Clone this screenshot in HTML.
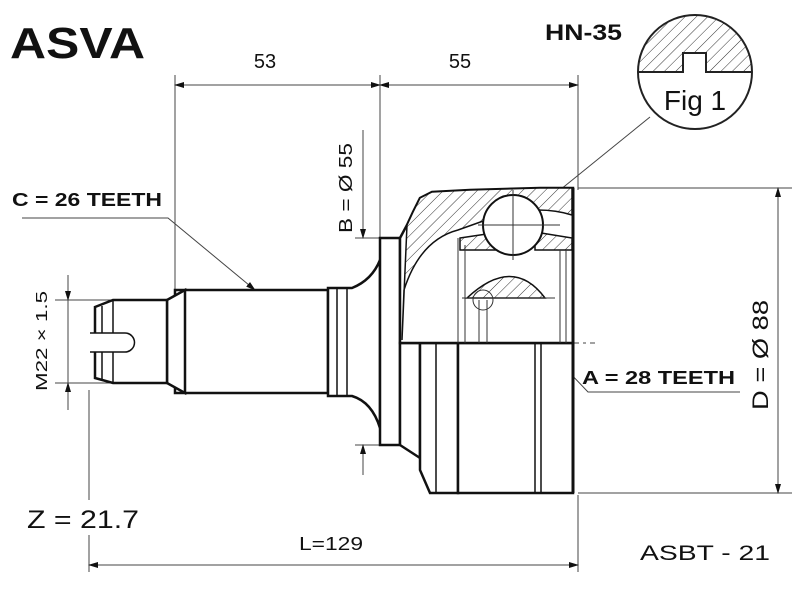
<!DOCTYPE html>
<html><head><meta charset="utf-8"><style>
html,body{margin:0;padding:0;background:#fff;width:800px;height:600px;overflow:hidden}
text{font-family:"Liberation Sans",Arial,sans-serif;fill:#111}
</style></head><body>
<svg width="800" height="600" viewBox="0 0 800 600" xmlns="http://www.w3.org/2000/svg">
<defs>
<pattern id="h" width="8" height="8" patternUnits="userSpaceOnUse" patternTransform="rotate(45)">
<rect width="8" height="8" fill="#fff"/><line x1="0" y1="0" x2="0" y2="8" stroke="#333" stroke-width="1"/></pattern>
<marker id="a" markerWidth="10" markerHeight="8" refX="9" refY="4" orient="auto-start-reverse" markerUnits="userSpaceOnUse"><path d="M0,1 L10,4 L0,7z" fill="#111"/></marker>
</defs>
<text x="10" y="58" font-size="44" font-weight="bold" textLength="135" lengthAdjust="spacingAndGlyphs">ASVA</text>
<text x="545" y="40" font-size="22" font-weight="bold" textLength="77" lengthAdjust="spacingAndGlyphs">HN-35</text>

<path d="M638,72 A57,57 0 0 1 752,72 Z" fill="url(#h)"/>
<path d="M638,72 L683,72 L683,53 L706,53 L706,72 L752,72" fill="#fff" stroke="#222" stroke-width="2"/>
<rect x="684" y="54" width="21" height="18" fill="#fff"/>
<circle cx="695" cy="72" r="57" fill="none" stroke="#222" stroke-width="2"/>
<text x="695" y="110" font-size="28" text-anchor="middle" font-family="DejaVu Sans Condensed,Liberation Sans Narrow,sans-serif">Fig 1</text>
<line x1="650" y1="117" x2="513" y2="228" stroke="#444" stroke-width="1"/>

<g stroke="#444" stroke-width="1" fill="none">
<line x1="175" y1="75" x2="175" y2="310"/>
<line x1="380" y1="75" x2="380" y2="240"/>
<line x1="578" y1="75" x2="578" y2="190"/>
<line x1="89" y1="390" x2="89" y2="500"/>
<line x1="89" y1="535" x2="89" y2="572"/>
<line x1="578" y1="495" x2="578" y2="572"/>
<line x1="578" y1="188" x2="792" y2="188"/>
<line x1="578" y1="493" x2="792" y2="493"/>
<line x1="55" y1="300" x2="175" y2="300"/>
<line x1="55" y1="383" x2="120" y2="383"/>
<line x1="355" y1="238" x2="380" y2="238"/>
<line x1="355" y1="445" x2="380" y2="445"/>
<line x1="175" y1="85" x2="380" y2="85" marker-start="url(#a)" marker-end="url(#a)"/>
<line x1="380" y1="85" x2="578" y2="85" marker-start="url(#a)" marker-end="url(#a)"/>
<line x1="89" y1="565" x2="578" y2="565" marker-start="url(#a)" marker-end="url(#a)"/>
<line x1="778" y1="188" x2="778" y2="493" marker-start="url(#a)" marker-end="url(#a)"/>
<line x1="68" y1="275" x2="68" y2="300" marker-end="url(#a)"/>
<line x1="68" y1="410" x2="68" y2="383" marker-end="url(#a)"/>
<line x1="68" y1="300" x2="68" y2="383"/>
<line x1="363" y1="130" x2="363" y2="238" marker-end="url(#a)"/>
<line x1="363" y1="475" x2="363" y2="445" marker-end="url(#a)"/>
<polyline points="22,218 168,218 255,290" marker-end="url(#a)"/>
<polyline points="740,392 588,392 505,305" marker-end="url(#a)"/>
<line x1="95" y1="343" x2="595" y2="343" stroke-dasharray="22,4,3,4"/>
</g>

<text x="265" y="68" font-size="20" text-anchor="middle">53</text>
<text x="460" y="68" font-size="20" text-anchor="middle">55</text>
<text x="12" y="206" font-size="18" font-weight="bold" textLength="150" lengthAdjust="spacingAndGlyphs">C = 26 TEETH</text>
<text x="582" y="384" font-size="18" font-weight="bold" textLength="153" lengthAdjust="spacingAndGlyphs">A = 28 TEETH</text>
<text x="299" y="550" font-size="18" textLength="64" lengthAdjust="spacingAndGlyphs">L=129</text>
<text x="27" y="528" font-size="25" textLength="112" lengthAdjust="spacingAndGlyphs">Z = 21.7</text>
<text x="640" y="560" font-size="21" textLength="130" lengthAdjust="spacingAndGlyphs">ASBT - 21</text>
<text transform="translate(352,188) rotate(-90)" font-size="18" text-anchor="middle" textLength="90" lengthAdjust="spacingAndGlyphs">B = Ø 55</text>
<text transform="translate(768,355) rotate(-90)" font-size="22" text-anchor="middle" textLength="110" lengthAdjust="spacingAndGlyphs">D = Ø 88</text>
<text transform="translate(47,341) rotate(-90)" font-size="16" text-anchor="middle" textLength="100" lengthAdjust="spacingAndGlyphs">M22 × 1.5</text>

<g stroke="#111" stroke-width="2.5" fill="#fff">
<path d="M175,290 L328,290 L328,393 L175,393 Z"/>
<path d="M167,300 L185,290 L185,393 L167,383 Z"/>
<path d="M95,307 L113,300 L167,300 L167,383 L113,383 L95,378 Z"/>
<line x1="113" y1="300" x2="113" y2="383" stroke-width="1.5"/>
<line x1="102" y1="306" x2="102" y2="379" stroke-width="1.5"/>
<path d="M90,333 L125,333 A9,9 0 0 1 125,352 L90,352" stroke-width="1.5"/>
<path d="M328,288 L352,288 Q372,280 380,260 L380,428 Q372,402 352,396 L328,396 Z"/>
<line x1="337" y1="288" x2="337" y2="396" stroke-width="1.5"/>
<line x1="347" y1="288" x2="347" y2="396" stroke-width="1.5"/>
<path d="M380,238 L400,238 L400,445 L380,445 Z"/>
<path d="M400,343 L420,343 L420,458 L400,445 Z"/>
<path d="M420,343 L458,343 L458,493 L430,493 L420,470 Z"/>
<rect x="458" y="343" width="115" height="150"/>
<line x1="535" y1="343" x2="535" y2="493" stroke-width="1.5"/>
<line x1="541" y1="343" x2="541" y2="493" stroke-width="1.5"/>
<line x1="436" y1="250" x2="436" y2="493" stroke-width="1.5"/>
<path d="M400,238 L407,225 L413,212 L420,198 L432,192 L470,190 L540,188 L573,188 L573,343 L400,343 Z"/>
</g>
<path d="M402,340 L404,290 Q420,240 458,230 L500,215 Q540,205 572,215 L572,188 L540,188 L470,190 L432,192 L420,198 L413,212 L407,225 Z" fill="url(#h)" stroke="#111" stroke-width="1.5"/>
<path d="M460,238 L500,232 L500,250 L460,250Z M535,232 L572,238 L572,250 L535,250Z" fill="url(#h)" stroke="#111" stroke-width="1.5"/>
<path d="M467,298 Q513,255 545,298 Z" fill="url(#h)" stroke="#111" stroke-width="1.5"/>
<circle cx="513" cy="225" r="30" fill="#fff" stroke="#111" stroke-width="2"/>
<g stroke="#333" stroke-width="1" fill="none">
<line x1="513" y1="190" x2="513" y2="260"/><line x1="478" y1="225" x2="560" y2="225"/>
<line x1="458" y1="238" x2="458" y2="343"/><line x1="465" y1="245" x2="465" y2="343"/>
<line x1="462" y1="298" x2="555" y2="298"/>
<circle cx="483" cy="300" r="10"/>
<line x1="479" y1="300" x2="479" y2="343"/><line x1="487" y1="300" x2="487" y2="343"/>
<line x1="560" y1="250" x2="560" y2="343"/><line x1="566" y1="250" x2="566" y2="343"/>
</g>
<line x1="573" y1="188" x2="573" y2="493" stroke="#111" stroke-width="3"/>
</svg>
</body></html>
